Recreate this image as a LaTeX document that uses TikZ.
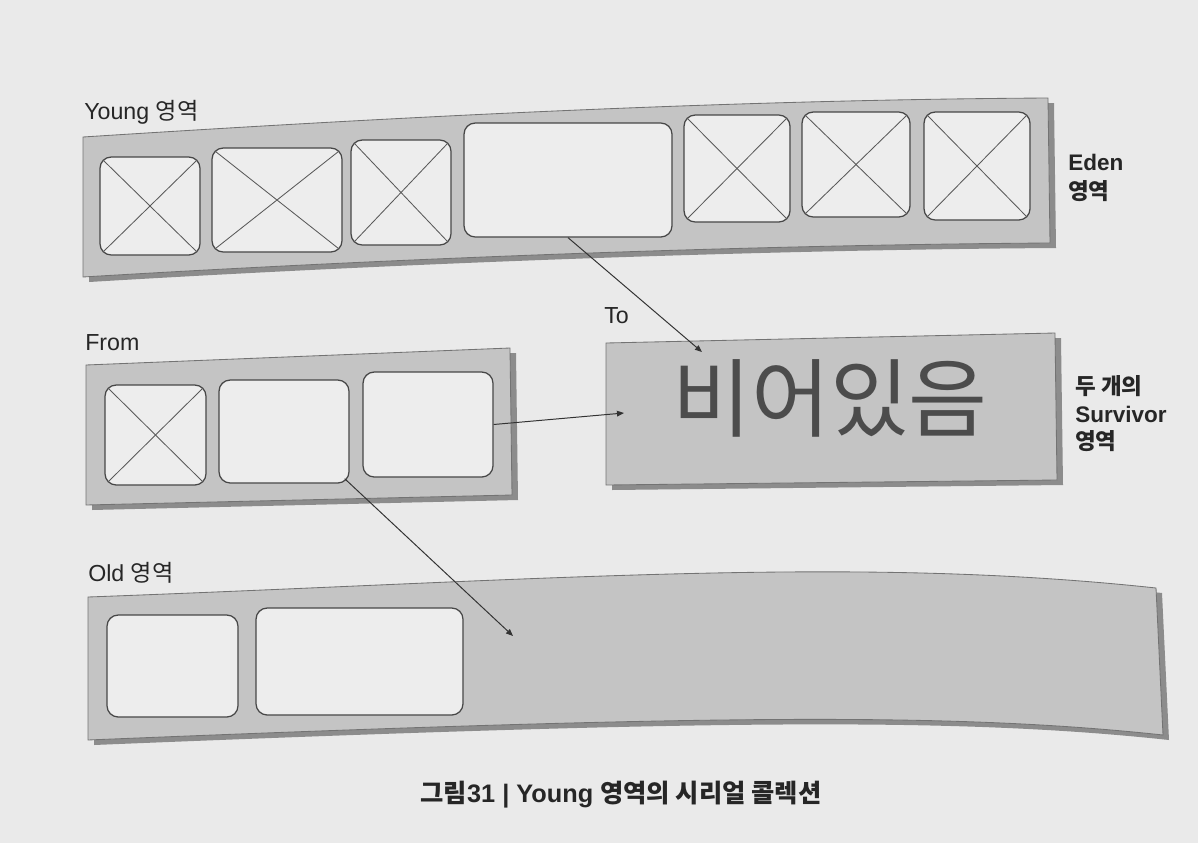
\documentclass[tikz,border=0pt]{standalone}
\usepackage{fontspec}
\setmainfont{Liberation Sans}
\newfontfamily\kr{Noto Sans CJK KR}
\newcommand\K[1]{{\kr #1}}
\usetikzlibrary{fit,calc,arrows.meta}
\definecolor{bg}{RGB}{234,234,234}
\definecolor{bandgray}{RGB}{196,196,196}
\definecolor{cellgray}{RGB}{237,237,237}
\newcommand\cellnode[5]{\node[cell, fit={(#2,#3) (#4,#5)}] (#1) {};}
\newcommand\crossout[1]{%
  \draw[xline] ($(#1.north west)+(4,4)$) -- ($(#1.south east)+(-4,-4)$);
  \draw[xline] ($(#1.north east)+(-4,4)$) -- ($(#1.south west)+(4,-4)$);}
\begin{document}
\begin{tikzpicture}[x=0.025cm,y=-0.025cm,
  band/.style={fill=bandgray, draw=black!55, line width=0.6pt,
    preaction={fill=black!45, transform canvas={shift={(6,5)}}}},
  cell/.style={rectangle, draw=black!72, fill=cellgray, line width=0.9pt,
    rounded corners=8pt, inner sep=0pt},
  xline/.style={draw=black!65, line width=0.6pt},
  arr/.style={draw=black!80, line width=0.7pt, -{Triangle[length=5pt,width=4pt]}},
  lbl/.style={font=\fontsize{16.5}{18}\selectfont, text=black!85, inner sep=0pt, anchor=west},
  blbl/.style={font=\fontsize{16}{18}\selectfont\bfseries, text=black!85, inner sep=0pt, anchor=west},
]
\useasboundingbox (0,0) rectangle (1198,843);
\fill[bg] (0,0) rectangle (1198,843);

% Young / Eden band
\path[band] (83,137) .. controls (350,120) and (700,100) .. (1048,98)
  -- (1050,243) .. controls (750,245) and (400,258) .. (83,277) -- cycle;
\cellnode{e1}{100}{157}{200}{255}
\cellnode{e2}{212}{148}{342}{252}
\cellnode{e3}{351}{140}{451}{245}
\cellnode{e4}{464}{123}{672}{237}
\cellnode{e5}{684}{115}{790}{222}
\cellnode{e6}{802}{112}{910}{217}
\cellnode{e7}{924}{112}{1030}{220}
\crossout{e1}\crossout{e2}\crossout{e3}\crossout{e5}\crossout{e6}\crossout{e7}

% From band
\path[band] (86,365) -- (510,348) -- (512,495) -- (86,505) -- cycle;
\cellnode{fa}{105}{385}{206}{485}
\cellnode{fb}{219}{380}{349}{483}
\cellnode{fc}{363}{372}{493}{477}
\crossout{fa}

% To band
\path[band] (606,343) -- (1055,333) -- (1057,480) -- (606,485) -- cycle;
\node[font=\kr\fontsize{61}{64}\selectfont, text=black!70, inner sep=0pt] (empty) at (830,398) {비어있음};

% Old band
\path[band] (88,597) .. controls (550,580) and (850,555) .. (1156,588)
  -- (1163,735) .. controls (950,712) and (700,715) .. (88,740) -- cycle;
\cellnode{o1}{107}{615}{238}{717}
\cellnode{o2}{256}{608}{463}{715}

% arrows
\coordinate (tohead) at (702,352);
\coordinate (tohead2) at (624,413);
\coordinate (oldhead) at (513,636);
\draw[arr] (e4.south) -- (tohead);
\draw[arr] (fc.east) -- (tohead2);
\draw[arr] ($(fb.south east)+(-5,-5)$) -- (oldhead);

% labels
\node[lbl] (ylbl) at (84,112) {Young \K{영역}};
\node[blbl] (eden) at (1068,162) {Eden};
\node[blbl] (edenk) at (1068,191) {\K{영역}};
\node[lbl] (from) at (85,343) {From};
\node[lbl] (to) at (604,316) {To};
\node[blbl] (surv1) at (1075,386) {\K{두 개의}};
\node[blbl] (surv2) at (1075,414) {Survivor};
\node[blbl] (surv3) at (1075,441) {\K{영역}};
\node[lbl] (old) at (88,573) {Old \K{영역}};
\node[font=\fontsize{18}{20}\selectfont\bfseries, text=black!85, inner sep=0pt] (cap) at (621,795)
  {\K{그림}31 | Young \K{영역의 시리얼 콜렉션}};
\end{tikzpicture}
\end{document}
